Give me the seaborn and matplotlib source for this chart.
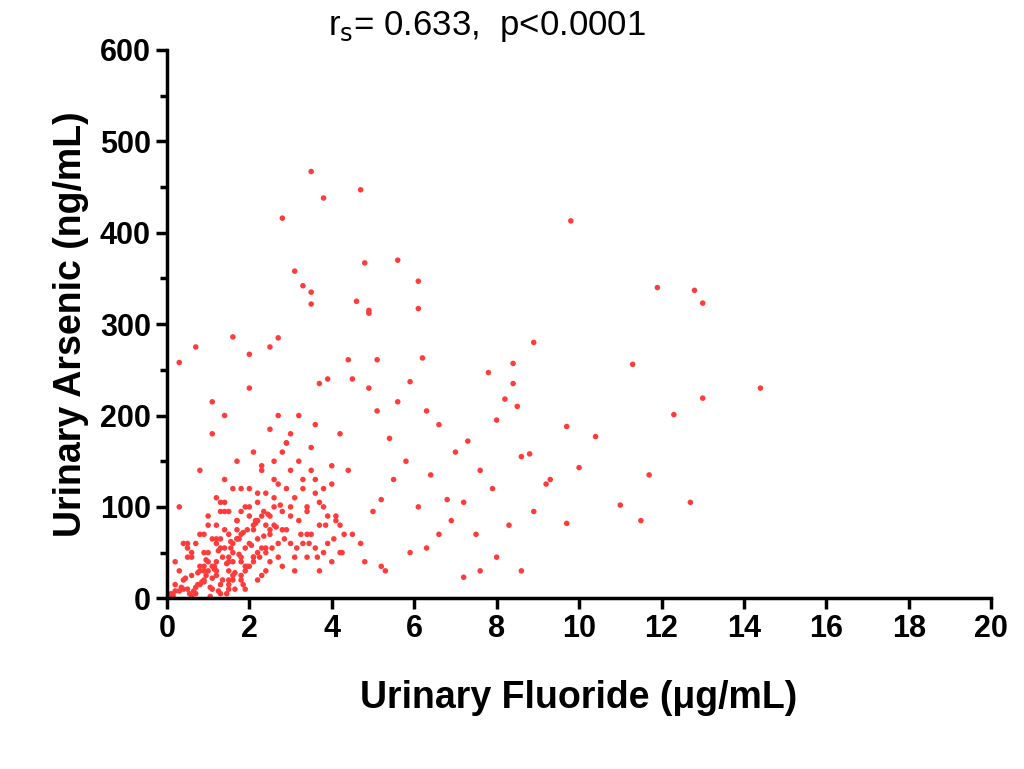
import numpy as np
import pandas as pd
import matplotlib
matplotlib.use("Agg")
import matplotlib.pyplot as plt
import seaborn as sns
from matplotlib.ticker import MultipleLocator

# sparse points
fluoride_outer = [3.5, 4.7, 3.8, 2.8, 9.8, 3.1, 5.6, 4.8, 6.1, 3.3, 3.5, 3.5, 4.6, 4.9, 4.9, 6.1,
                  11.9, 12.8, 13.0, 2.7, 1.6, 0.7, 0.3, 2.0, 2.5, 8.9, 11.3, 8.4, 6.2, 5.1, 4.4,
                  14.4, 13.0, 12.3, 10.4, 10.0, 9.7, 11.7, 11.0, 11.5, 12.7, 9.7, 8.9, 9.3, 8.8,
                  8.6, 8.2, 8.0, 7.8, 8.4, 7.6, 7.3, 7.2, 7.5, 7.2, 7.6, 8.0, 8.6, 8.3, 6.3, 5.9,
                  6.6, 6.8, 6.4, 5.6, 5.9, 6.3, 6.6, 7.0, 5.2, 5.5, 5.3, 4.7, 5.0, 9.2, 8.5, 7.9,
                  6.9, 6.1, 5.8, 5.4, 5.1, 4.9, 4.5, 4.2, 4.0, 3.9, 3.7, 3.6]
arsenic_outer = [467, 447, 438, 416, 413, 358, 370, 367, 347, 342, 335, 322, 325, 315, 312, 317,
                 340, 337, 323, 285, 286, 275, 258, 267, 275, 280, 256, 257, 263, 261, 261,
                 230, 219, 201, 177, 143, 188, 135, 102, 85, 105, 82, 95, 130, 158,
                 155, 218, 195, 247, 235, 140, 172, 105, 70, 23, 30, 45, 30, 80, 55, 50,
                 70, 108, 135, 215, 237, 205, 190, 160, 108, 130, 30, 60, 95, 125, 210, 120,
                 85, 100, 150, 175, 205, 230, 240, 180, 145, 240, 235, 190]

# dense cluster
fluoride_core = [0.1, 0.2, 0.3, 0.3, 0.4, 0.5, 0.5, 0.6, 0.7, 0.7, 0.8, 0.8, 0.9, 0.9, 1.0, 1.0,
                 1.1, 1.1, 1.2, 1.2, 1.3, 1.3, 1.4, 1.4, 1.5, 1.5, 1.6, 1.6, 1.7, 1.7, 1.8, 1.8,
                 1.9, 1.9, 2.0, 2.0, 2.1, 2.1, 2.2, 2.2, 2.3, 2.3, 2.4, 2.4, 2.5, 2.5, 2.6, 2.6,
                 2.7, 2.7, 2.8, 2.8, 2.9, 2.9, 3.0, 3.0, 3.1, 3.2, 3.3, 3.4, 3.5, 3.6, 3.7, 3.8,
                 3.9, 4.0, 4.1, 4.2, 4.3, 4.4, 0.2, 0.4, 0.6, 0.8, 1.0, 1.2, 1.4, 1.6, 1.8, 2.0,
                 2.2, 2.4, 2.6, 2.8, 3.0, 3.2, 3.4, 3.6, 3.8, 4.0, 0.5, 0.9, 1.3, 1.7, 2.1, 2.5,
                 2.9, 3.3, 3.7, 4.1, 1.1, 1.5, 1.9, 2.3, 2.7, 3.1, 3.5, 0.7, 1.2, 1.6, 2.0, 2.4,
                 0.3, 0.6, 0.9, 1.2, 1.5, 1.8, 2.1, 2.4, 2.7, 3.0, 3.3, 3.6, 3.9, 1.0, 1.4, 1.8,
                 2.2, 2.6, 3.0, 3.4, 3.8, 0.8, 1.1, 1.3, 1.5, 1.7, 1.9, 2.1, 2.3, 2.5, 0.4, 0.1,
                 0.2, 0.5, 0.8, 1.1, 1.4, 1.7, 2.0, 2.3, 2.6, 2.9, 3.2, 3.5, 4.2, 4.5, 4.8, 5.2,
                 1.0, 1.3, 1.6, 1.9, 2.2, 2.5, 2.8, 3.1, 3.4, 3.7, 0.9, 1.2, 1.5, 1.8, 2.1, 1.4,
                 1.6, 1.8, 1.3, 1.5, 1.7, 1.1, 2.0, 2.2, 0.6, 0.9, 1.2, 1.5,
                 0.15, 0.35, 0.45, 0.65, 0.75, 0.85, 0.95, 1.05, 1.15, 1.25, 1.35, 1.45, 1.55,
                 1.65, 1.75, 1.85, 1.95, 2.05, 2.15, 2.25, 2.35, 2.45, 2.55, 2.65, 2.75, 2.85,
                 0.55, 0.75, 0.95, 1.15, 1.35, 1.55, 1.75, 1.95, 2.15, 2.35, 1.05, 1.25, 1.45,
                 1.65, 1.85, 3.15, 3.25, 3.45, 3.65, 3.85, 4.05, 4.25]
arsenic_core = [5, 15, 8, 30, 20, 10, 45, 25, 12, 60, 35, 70, 18, 50, 40, 90,
                22, 65, 30, 110, 55, 15, 75, 130, 40, 95, 60, 20, 85, 150, 45, 70,
                100, 30, 60, 120, 80, 45, 105, 65, 140, 90, 55, 115, 75, 185, 100, 130,
                60, 200, 95, 160, 120, 75, 140, 90, 110, 85, 130, 95, 70, 115, 80, 100,
                60, 125, 90, 50, 70, 140, 40, 10, 50, 30, 80, 40, 55, 25, 95, 35,
                85, 50, 110, 75, 60, 150, 100, 55, 120, 40, 60, 20, 95, 65, 45, 70,
                170, 60, 105, 85, 10, 70, 35, 55, 125, 45, 165, 5, 25, 50, 100, 80,
                100, 2, 30, 60, 15, 40, 75, 30, 45, 100, 120, 130, 90, 50, 105, 120,
                20, 150, 180, 70, 50, 140, 35, 65, 10, 85, 55, 160, 25, 90, 60, 0,
                8, 55, 15, 180, 200, 65, 90, 145, 80, 170, 200, 140, 80, 70, 40, 35,
                30, 5, 40, 10, 115, 40, 35, 30, 45, 30, 70, 80, 45, 20, 40, 95,
                120, 25, 105, 30, 75, 215, 230, 50, 45, 35, 65, 20,
                3, 12, 22, 8, 28, 18, 42, 12, 32, 52, 20, 38, 62,
                28, 48, 72, 35, 58, 82, 45, 68, 92, 55, 78, 102, 65,
                5, 15, 25, 35, 45, 55, 65, 75, 85, 95, 2, 8, 5,
                10, 15, 55, 70, 60, 45, 80, 65, 50]

df = pd.DataFrame({
    "fluoride": fluoride_outer + fluoride_core,
    "arsenic": arsenic_outer + arsenic_core,
})

sns.set_style("ticks")
plt.rcParams["font.family"] = ["Liberation Sans", "DejaVu Sans"]
plt.rcParams["text.color"] = "black"
plt.rcParams["axes.labelcolor"] = "black"
plt.rcParams["xtick.color"] = "black"
plt.rcParams["ytick.color"] = "black"
plt.rcParams["axes.edgecolor"] = "black"

fig = plt.figure(figsize=(10.24, 7.69), dpi=100)
ax = fig.add_axes([0.163, 0.222, 0.805, 0.713])
sns.scatterplot(data=df, x="fluoride", y="arsenic", color="#ff3b3b", s=16,
                edgecolor="none", ax=ax)

ax.set_xlim(0, 20)
ax.set_ylim(0, 600)
ax.xaxis.set_major_locator(MultipleLocator(2))
ax.yaxis.set_major_locator(MultipleLocator(100))
ax.yaxis.set_minor_locator(MultipleLocator(50))
ax.tick_params(axis="both", which="major", length=8, width=2.5, labelsize=22, direction="out")
ax.tick_params(axis="y", which="minor", length=5, width=2.5)
for lbl in ax.get_xticklabels() + ax.get_yticklabels():
    lbl.set_fontweight("bold")
for side in ["left", "bottom"]:
    ax.spines[side].set_linewidth(2.5)
sns.despine(ax=ax)

ax.set_xlabel("Urinary Fluoride (\u03bcg/mL)", fontsize=27, fontweight="bold", labelpad=26)
ax.set_ylabel("Urinary Arsenic (ng/mL)", fontsize=27, fontweight="bold", labelpad=8)
fig.text(0.475, 0.965, r"r$_\mathrm{s}$= 0.633,  p<0.0001", fontsize=25,
         ha="center", va="center")

fig.savefig("out.png", dpi=100)
